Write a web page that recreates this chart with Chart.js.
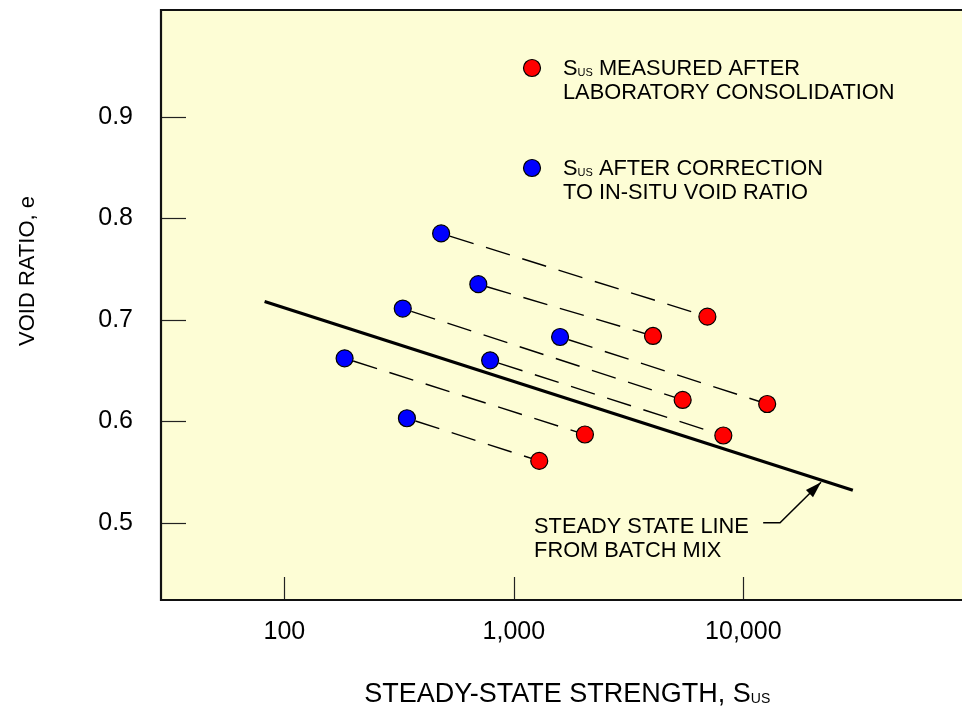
<!DOCTYPE html>
<html>
<head>
<meta charset="utf-8">
<script src="https://cdn.jsdelivr.net/npm/chart.js@4.4.0/dist/chart.umd.min.js"></script>
<style>
  html, body { margin: 0; padding: 0; background: #fff; }
  #wrap { width: 962px; height: 713px; position: relative; }
</style>
</head>
<body>
<div id="wrap"><canvas id="chart" width="962" height="713"></canvas></div>
<script>
// ---- data ----
const xTicks = [100, 1000, 10000];
const yTicks = [0.5, 0.6, 0.7, 0.8, 0.9];

// Sus after correction to in-situ void ratio (blue)
const insituS = [482, 700, 328, 183, 788, 342, 1590];
const insituE = [0.785, 0.735, 0.711, 0.662, 0.660, 0.603, 0.683];
// Sus measured after lab consolidation (red), same order as blue -> pairs
const labS = [6970, 4040, 5440, 2040, 8180, 1290, 12700];
const labE = [0.703, 0.684, 0.621, 0.587, 0.586, 0.561, 0.617];

// steady state line from batch mix
const steadyS = [82, 30000];
const steadyE = [0.718, 0.532];

// annotation leader (data units): text anchor, elbow start, elbow, arrow tip
const noteS = [1225, 12200, 14450, 21800];
const noteE = [0.490, 0.500, 0.500, 0.540];

const FONT = "'Liberation Sans', Arial, Helvetica, sans-serif";
const BG = '#fdfdd5';

// pairs drawn as dashed connectors
const pairSets = insituS.map((s, i) => ({
  type: 'line',
  data: [{ x: s, y: insituE[i] }, { x: labS[i], y: labE[i] }],
  borderColor: '#000', borderWidth: 1.4,
  borderDash: [25, 13], borderDashOffset: 29,
  pointRadius: 0, showLine: true, fill: false, order: 5
}));

// text with subscript "US" after the leading S
function subText(ctx, x, y, before, rest, size) {
  ctx.font = size + 'px ' + FONT;
  ctx.fillText(before, x, y);
  x += ctx.measureText(before).width;
  ctx.fillText('S', x, y);
  x += ctx.measureText('S').width;
  const sub = Math.round(size * 0.52);
  ctx.font = sub + 'px ' + FONT;
  ctx.fillText('US', x, y + 1);
  x += ctx.measureText('US').width;
  ctx.font = size + 'px ' + FONT;
  if (rest) ctx.fillText(rest, x, y);
}

const noPad = s => { s.paddingTop = 0; s.paddingBottom = 0; s.paddingLeft = 0; s.paddingRight = 0; };

const framePlugin = {
  id: 'frame',
  beforeDraw(chart) {
    const { ctx, chartArea: a } = chart;
    ctx.save();
    ctx.fillStyle = BG;
    ctx.fillRect(a.left, a.top, a.right - a.left, a.bottom - a.top);
    ctx.restore();
  },
  afterDatasetsDraw(chart) {
    const { ctx, chartArea: a, scales } = chart;
    ctx.save();
    // inward tick marks
    ctx.strokeStyle = '#222';
    ctx.lineWidth = 1.2;
    yTicks.forEach(v => {
      const y = Math.round(scales.y.getPixelForValue(v)) + 0.5;
      ctx.beginPath(); ctx.moveTo(a.left, y); ctx.lineTo(a.left + 25, y); ctx.stroke();
    });
    xTicks.forEach(v => {
      const x = Math.round(scales.x.getPixelForValue(v)) + 0.5;
      ctx.beginPath(); ctx.moveTo(x, a.bottom); ctx.lineTo(x, a.bottom - 23); ctx.stroke();
    });
    // frame: top, left, bottom
    ctx.strokeStyle = '#111';
    ctx.lineWidth = 2.2;
    ctx.beginPath();
    ctx.moveTo(a.right + 2, a.top); ctx.lineTo(a.left, a.top);
    ctx.lineTo(a.left, a.bottom); ctx.lineTo(a.right + 2, a.bottom);
    ctx.stroke();

    // annotation arrow
    const px = i => scales.x.getPixelForValue(noteS[i]);
    const py = i => scales.y.getPixelForValue(noteE[i]);
    ctx.strokeStyle = '#000';
    ctx.lineWidth = 1.5;
    ctx.beginPath();
    ctx.moveTo(px(1), py(1)); ctx.lineTo(px(2), py(2)); ctx.lineTo(px(3), py(3));
    ctx.stroke();
    const ang = Math.atan2(py(3) - py(2), px(3) - px(2));
    ctx.fillStyle = '#000';
    ctx.beginPath();
    ctx.moveTo(px(3), py(3));
    ctx.lineTo(px(3) - 17 * Math.cos(ang - 0.3), py(3) - 17 * Math.sin(ang - 0.3));
    ctx.lineTo(px(3) - 17 * Math.cos(ang + 0.3), py(3) - 17 * Math.sin(ang + 0.3));
    ctx.closePath(); ctx.fill();

    ctx.fillStyle = '#000';
    ctx.textBaseline = 'alphabetic';
    ctx.textAlign = 'left';
    ctx.font = '21.8px ' + FONT;
    ctx.fillText('STEADY STATE LINE', px(0), py(0));
    ctx.fillText('FROM BATCH MIX', px(0), py(0) + 24);
    ctx.restore();
  },
  afterDraw(chart) {
    const { ctx } = chart;
    ctx.save();
    // legend
    [['#ff0000', 68, 'MEASURED AFTER', 'LABORATORY CONSOLIDATION'],
     ['#0000ff', 168, 'AFTER CORRECTION', 'TO IN-SITU VOID RATIO']].forEach(([c, y, l1, l2]) => {
      ctx.beginPath();
      ctx.arc(532, y, 8.5, 0, Math.PI * 2);
      ctx.fillStyle = c; ctx.fill();
      ctx.lineWidth = 1.2; ctx.strokeStyle = '#000'; ctx.stroke();
      ctx.fillStyle = '#000';
      ctx.textAlign = 'left'; ctx.textBaseline = 'alphabetic';
      subText(ctx, 563, y + 7, '', ' ' + l1, 21.8);
      ctx.font = '21.8px ' + FONT;
      ctx.fillText(l2, 563, y + 31);
    });
    // axis titles
    ctx.fillStyle = '#000';
    const full = 'STEADY-STATE STRENGTH, ';
    ctx.font = '27px ' + FONT;
    const w = ctx.measureText(full + 'S').width + 17;
    subText(ctx, 566 - w / 2, 702, full, '', 27);
    ctx.translate(34, 271);
    ctx.rotate(-Math.PI / 2);
    ctx.textAlign = 'center';
    ctx.font = '22px ' + FONT;
    ctx.fillText('VOID RATIO, e', 0, 0);
    ctx.restore();
  }
};

new Chart(document.getElementById('chart'), {
  type: 'scatter',
  data: {
    datasets: [
      {
        label: 'Sus after correction to in-situ void ratio',
        data: insituS.map((s, i) => ({ x: s, y: insituE[i] })),
        backgroundColor: '#0000ff', borderColor: '#000', borderWidth: 1.2,
        pointRadius: 8.5, order: 0
      },
      {
        label: 'Sus measured after laboratory consolidation',
        data: labS.map((s, i) => ({ x: s, y: labE[i] })),
        backgroundColor: '#ff0000', borderColor: '#000', borderWidth: 1.2,
        pointRadius: 8.5, order: 0
      },
      {
        type: 'line',
        label: 'Steady state line from batch mix',
        data: steadyS.map((s, i) => ({ x: s, y: steadyE[i] })),
        borderColor: '#000', borderWidth: 3.2, pointRadius: 0,
        showLine: true, fill: false, order: 4
      },
      ...pairSets
    ]
  },
  options: {
    responsive: false,
    animation: false,
    devicePixelRatio: 1,
    layout: { autoPadding: false, padding: { top: 10, right: 0, left: 0, bottom: 0 } },
    plugins: { legend: { display: false }, tooltip: { enabled: false } },
    scales: {
      x: {
        type: 'logarithmic', position: 'bottom',
        min: 29.0, max: 89700,
        afterBuildTicks: s => { s.ticks = xTicks.map(v => ({ value: v })); },
        afterFit: s => { s.height = 113; noPad(s); },
        grid: { display: false, drawTicks: false },
        border: { display: false },
        ticks: {
          padding: 17, autoSkip: false, maxRotation: 0, color: '#000',
          font: { family: FONT, size: 25 },
          callback: v => Number(v).toLocaleString('en-US')
        }
      },
      y: {
        type: 'linear', position: 'left',
        min: 0.424, max: 1.005,
        afterBuildTicks: s => { s.ticks = yTicks.map(v => ({ value: v })); },
        afterFit: s => { s.width = 161; noPad(s); },
        grid: { display: false, drawTicks: false },
        border: { display: false },
        ticks: {
          padding: 28, color: '#000',
          font: { family: FONT, size: 25 },
          callback: v => Number(v).toFixed(1)
        }
      }
    }
  },
  plugins: [framePlugin]
});
</script>
</body>
</html>
